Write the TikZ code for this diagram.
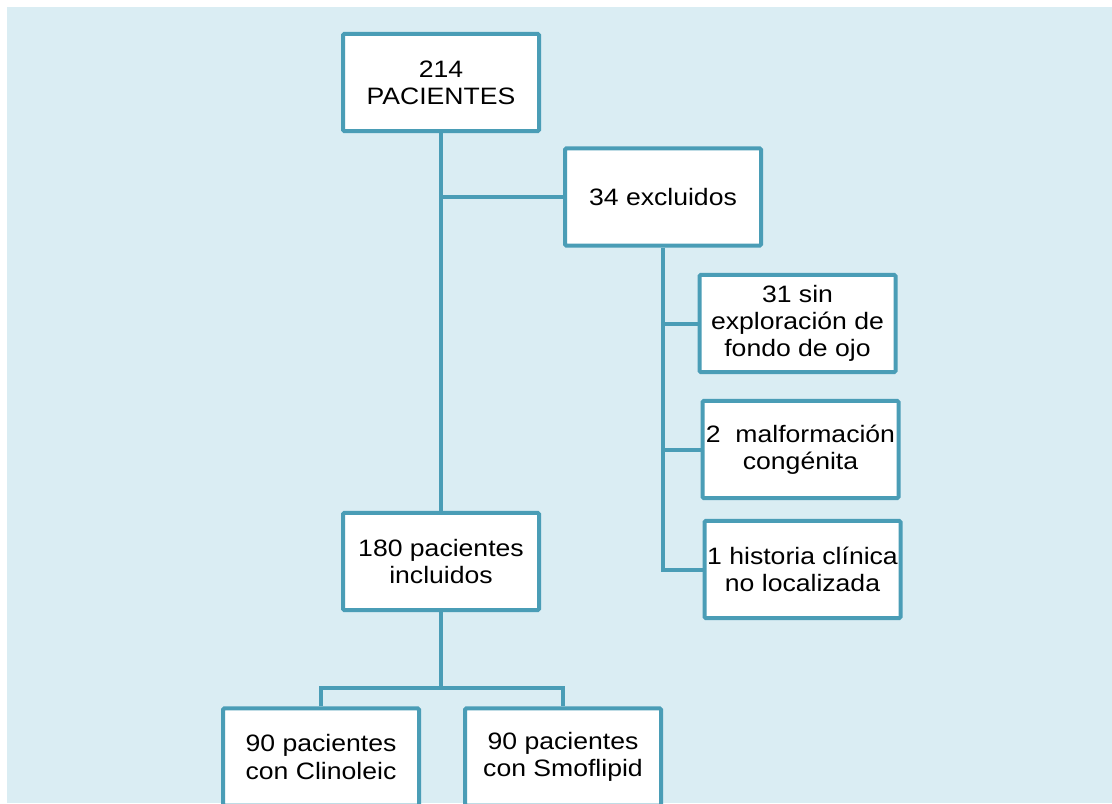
\documentclass[tikz,border=0pt]{standalone}
\usepackage{fontspec}
\setmainfont[FakeStretch=1.12]{Liberation Sans}
\usepackage{xcolor}
\usepackage{tikz}

\definecolor{fondo}{HTML}{DAEDF3}
\definecolor{borde}{HTML}{4A9DB6}

\begin{document}
\begin{tikzpicture}[x=0.75pt,y=0.75pt,yscale=-1,xscale=1,
  caja/.style={draw=borde,fill=white,line width=3pt,rounded corners=1pt,
    minimum width=147pt,minimum height=73pt,inner sep=0.75pt,align=center,
    font=\fontsize{17.8pt}{20.3pt}\selectfont},
  rama/.style={draw=borde,line width=3pt}]
\useasboundingbox (0,0) rectangle (1112,803);
\fill[white] (0,0) rectangle (1112,803);
\fill[fondo] (7,7) rectangle (1112,803);
\draw (441,82.5) node [caja] (total) {214\\PACIENTES};
\draw (663,197) node [caja] (excl) {34 excluidos};
\draw (797.5,323.5) node [caja] (fondoojo) {31 sin\\exploración de\\fondo de ojo};
\draw (800.5,449.5) node [caja] (malf) {2~~malformación\\congénita};
\draw (802.5,569.5) node [caja] (hist) {1 historia clínica\\no localizada};
\draw (441,561.5) node [caja] (incl) {180 pacientes\\incluidos};
\draw (321,757) node [caja] (clino) {90 pacientes\\con Clinoleic};
\draw (563,757) node [caja] (smof) {90 pacientes\\con Smoflipid};
\coordinate (split) at (441,688);
\draw [rama] (total.south) -- (incl.north);
\draw [rama] (excl.west) -- (excl.west -| total.south);
\draw [rama] (excl.south) |- (hist.west);
\draw [rama] (fondoojo.west) -- (fondoojo.west -| excl.south);
\draw [rama] (malf.west) -- (malf.west -| excl.south);
\draw [rama] (incl.south) -- (split);
\draw [rama] (clino.north) |- (split) -| (smof.north);
\end{tikzpicture}
\end{document}
